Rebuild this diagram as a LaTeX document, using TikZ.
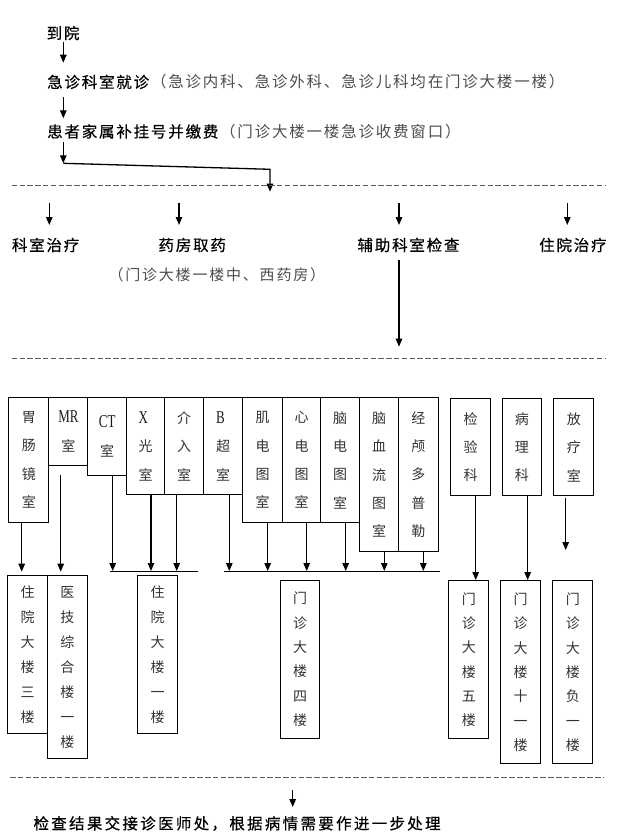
\documentclass[tikz,border=0pt]{standalone}
\usepackage{fontspec}
\setmainfont{Noto Sans CJK SC}
\newfontfamily\cjkb[FakeBold=0.5]{Noto Sans CJK SC}
\newfontfamily\lat[FakeStretch=0.72]{Liberation Serif}
\usetikzlibrary{arrows.meta}
\makeatletter
\def\spc#1{\spc@#1\@nil}
\def\spc@#1{\ifx#1\@nil\else#1\kern\spckern\expandafter\spc@\fi}
\makeatother
\def\spckern{1.8pt}
\newcommand\latl[1]{{\lat\fontsize{18}{28.3}\selectfont\color{black!90}#1}}
\begin{document}
\begin{tikzpicture}[x=1pt,y=-1pt,
  lbl/.style={inner sep=0pt,anchor=west,font=\fontsize{15.5}{18}\selectfont},
  arr/.style={line width=1.3pt,-{Triangle[width=6.5pt,length=8pt]}},
  sepline/.style={line width=0.8pt,black!65,dash pattern=on 5.5pt off 2.3pt},
  box/.style={draw,line width=1.1pt,inner sep=0pt,anchor=north west,align=center,text=black!80,font=\fontsize{14}{28.3}\selectfont},
  lbox/.style={box,font=\fontsize{14}{25}\selectfont},
  lboxb/.style={box,font=\fontsize{14}{24.3}\selectfont},
  bus/.style={line width=1pt}]
\useasboundingbox (0,0) rectangle (639,832);

% ---- top flow ----
\node[lbl] (t1) at (46.5,33) {\cjkb\spc{到院}};
\node[lbl] (t2) at (47,82) {{\cjkb\spc{急诊科室就诊}}\textcolor{black!70}{\spc{（急诊内科、急诊外科、急诊儿科均在门诊大楼一楼）}}};
\node[lbl] (t3) at (47,131.5) {{\cjkb\spc{患者家属补挂号并缴费}}\textcolor{black!70}{\spc{（门诊大楼一楼急诊收费窗口）}}};

\coordinate (a1s) at (63.3,41.7); \coordinate (a1e) at (63.3,62.7);
\coordinate (a2s) at (63.3,97.3); \coordinate (a2e) at (63.3,118.3);
\coordinate (a3s) at (63.3,141.7); \coordinate (a3e) at (63.3,163.3);
\coordinate (bend) at (270,169.3); \coordinate (a4e) at (270,191.7);
\draw[arr] (a1s) -- (a1e);
\draw[arr] (a2s) -- (a2e);
\draw[arr] (a3s) -- (a3e);
\draw[arr] (a3e) -- (bend) -- (a4e);

% ---- separators ----
\coordinate (d1w) at (11.7,185.7); \coordinate (d1e) at (605.7,185.7);
\coordinate (d2w) at (11.7,358.5); \coordinate (d2e) at (605.7,358.5);
\coordinate (d3w) at (10,777.5);   \coordinate (d3e) at (603,777.5);
\draw[sepline] (d1w) -- (d1e);
\draw[sepline] (d2w) -- (d2e);
\draw[sepline] (d3w) -- (d3e);

% ---- second row ----
\node[lbl] (r1) at (11.7,245) {\cjkb\spc{科室治疗}};
\node[lbl] (r2) at (158.3,245) {\cjkb\spc{药房取药}};
\node[lbl,text=black!70,font=\fontsize{15}{18}\selectfont] (r2b) at (108.3,275) {\spc{（门诊大楼一楼中、西药房）}};
\node[lbl] (r3) at (357.3,245) {\cjkb\spc{辅助科室检查}};
\node[lbl] (r4) at (539,245) {\cjkb\spc{住院治疗}};
\foreach \x/\n in {49.3/1,179/2,399/3,567.3/4}{
  \coordinate (u\n s) at (\x,203.3); \coordinate (u\n e) at (\x,225);
  \draw[arr] (u\n s) -- (u\n e);
}
\coordinate (lgs) at (399,260); \coordinate (lge) at (399,346.7);
\draw[arr] (lgs) -- (lge);

% ---- department boxes ----
\node[box,minimum width=40pt,minimum height=124.7pt] (b1) at (8.3,397) {胃\\肠\\镜\\室};
\node[box,minimum width=39pt,minimum height=68pt] (b2) at (48.3,397) {\latl{MR}\\室};
\node[box,minimum width=38.7pt,minimum height=78pt] (b3) at (87.3,397) {\latl{CT}\\室};
\node[box,minimum width=38pt,minimum height=97.3pt] (b4) at (126,397) {\makebox[14pt][l]{\latl{X}}\\光\\室};
\node[box,minimum width=39pt,minimum height=97.3pt] (b5) at (164,397) {介\\入\\室};
\node[box,minimum width=39pt,minimum height=97.3pt] (b6) at (203,397) {\makebox[14pt][l]{\latl{B}}\\超\\室};
\node[box,minimum width=40pt,minimum height=125pt] (b7) at (242,397) {肌\\电\\图\\室};
\node[box,minimum width=38pt,minimum height=125pt] (b8) at (282,397) {心\\电\\图\\室};
\node[box,minimum width=39.3pt,minimum height=125pt] (b9) at (320,397) {脑\\电\\图\\室};
\node[box,minimum width=38.4pt,minimum height=154pt] (b10) at (359.3,397) {脑\\血\\流\\图\\室};
\node[box,minimum width=40pt,minimum height=154pt] (b11) at (397.7,397) {经\\颅\\多\\普\\勒};
\node[box,minimum width=40pt,minimum height=96.7pt] (b12) at (450,398.3) {检\\验\\科};
\node[box,minimum width=39.3pt,minimum height=96.7pt] (b13) at (501.7,398.3) {病\\理\\科};
\node[box,minimum width=40pt,minimum height=96.7pt] (b14) at (553.3,398.3) {放\\疗\\室};

% ---- location boxes ----
\node[lbox,minimum width=39.4pt,minimum height=158.3pt] (c1) at (7.3,575) {住\\院\\大\\楼\\三\\楼};
\node[lbox,minimum width=40pt,minimum height=183.3pt] (c2) at (46.7,575) {医\\技\\综\\合\\楼\\一\\楼};
\node[lbox,minimum width=39.4pt,minimum height=158.3pt] (c3) at (137.3,575) {住\\院\\大\\楼\\一\\楼};
\node[lboxb,minimum width=39.3pt,minimum height=157.7pt] (c4) at (280,580) {门\\诊\\大\\楼\\四\\楼};
\node[lboxb,minimum width=40pt,minimum height=158.3pt] (c5) at (448.3,580) {门\\诊\\大\\楼\\五\\楼};
\node[lboxb,minimum width=40pt,minimum height=183.3pt] (c6) at (500,580) {门\\诊\\大\\楼\\十\\一\\楼};
\node[lboxb,minimum width=40pt,minimum height=183.3pt] (c7) at (552.3,580) {门\\诊\\大\\楼\\负\\一\\楼};

% ---- bus lines ----
\coordinate (bus1w) at (110,571); \coordinate (bus1e) at (198.3,571);
\coordinate (bus2w) at (224,571); \coordinate (bus2e) at (440,571);
\draw[bus] (bus1w) -- (bus1e);
\draw[bus] (bus2w) -- (bus2e);

% ---- arrows from department boxes ----
\coordinate (s1) at ([xshift=13.4pt]b1.south west);
\draw[arr,shorten >=3.3pt] (s1) -- (s1 |- c1.north);
\coordinate (s2) at ([xshift=12.4pt,yshift=-9pt]b2.south west);
\draw[arr,shorten >=3.3pt] (s2) -- (s2 |- c2.north);
\coordinate (s3) at ([xshift=25.4pt]b3.south west);
\draw[arr] (s3) -- (s3 |- bus1w);
\coordinate (s4) at ([xshift=25pt]b4.south west);
\draw[arr] (s4) -- (s4 |- bus1w);
\coordinate (s5) at ([xshift=12.7pt]b5.south west);
\draw[arr] (s5) -- (s5 |- bus1w);
\coordinate (s6) at ([xshift=26.3pt]b6.south west);
\draw[arr] (s6) -- (s6 |- bus2w);
\coordinate (s7) at ([xshift=25.7pt]b7.south west);
\draw[arr] (s7) -- (s7 |- bus2w);
\coordinate (s8) at ([xshift=24.7pt]b8.south west);
\draw[arr] (s8) -- (s8 |- bus2w);
\coordinate (s9) at ([xshift=25.7pt]b9.south west);
\draw[arr] (s9) -- (s9 |- bus2w);
\coordinate (s10) at ([xshift=25pt]b10.south west);
\draw[arr] (s10) -- (s10 |- bus2w);
\coordinate (s11) at ([xshift=25.6pt]b11.south west);
\draw[arr] (s11) -- (s11 |- bus2w);
\coordinate (s12) at ([xshift=25.7pt]b12.south west);
\draw[arr] (s12) -- (s12 |- c5.north);
\coordinate (s13) at ([xshift=26pt]b13.south west);
\draw[arr] (s13) -- (s13 |- c6.north);
\coordinate (s14) at ([xshift=12.4pt,yshift=-1.7pt]b14.south west);
\coordinate (e14) at (565.7,550);
\draw[arr] (s14) -- (e14);

% ---- final ----
\coordinate (fs) at (292.7,790.3); \coordinate (fe) at (292.7,807);
\draw[arr] (fs) -- (fe);
\node[lbl] (fin) at (33.3,823.5) {\def\spckern{2.3pt}\cjkb\spc{检查结果交接诊医师处，根据病情需要作进一步处理}};
\end{tikzpicture}
\end{document}
